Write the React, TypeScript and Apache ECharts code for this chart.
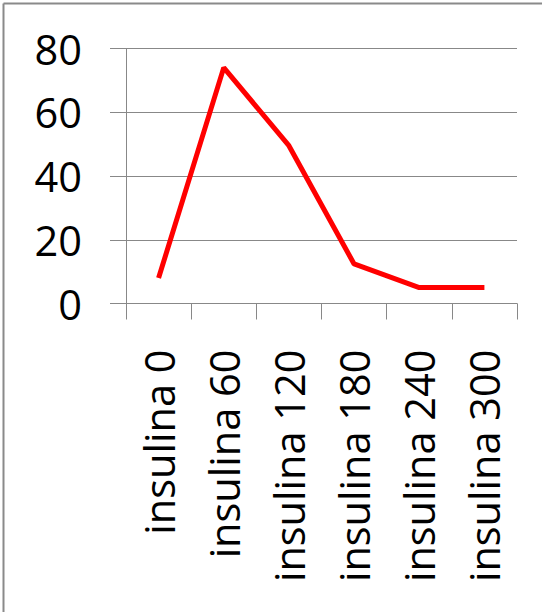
import React, { useEffect, useRef } from "react";
import * as echarts from "echarts";

const categories = ["insulina 0", "insulina 60", "insulina 120", "insulina 180", "insulina 240", "insulina 300"];
const values = [8, 74, 49.5, 12.4, 5, 5];
const yMin = 0;
const yMax = 80;
const yInterval = 20;

export default function App() {
  const ref = useRef<HTMLDivElement>(null);
  useEffect(() => {
    document.body.style.margin = "0";
    const chart = echarts.init(ref.current!, null, { renderer: "svg" });
    const font = "'Open Sans', sans-serif";
    chart.setOption({
      animation: false,
      backgroundColor: "#ffffff",
      graphic: [
        { type: "line", shape: { x1: 3.5, y1: 3.5, x2: 3.5, y2: 612 }, style: { stroke: "#8a8a8a", lineWidth: 2 } },
        { type: "line", shape: { x1: 3.5, y1: 3.5, x2: 542, y2: 3.5 }, style: { stroke: "#8a8a8a", lineWidth: 2 } },
      ],
      grid: { left: 126, right: 25, top: 48.5, bottom: 308.5, containLabel: false },
      xAxis: {
        type: "category",
        data: categories,
        boundaryGap: true,
        axisLine: { lineStyle: { color: "#888888", width: 1 } },
        axisTick: { show: true, length: 16, lineStyle: { color: "#888888" }, alignWithLabel: false },
        axisLabel: { rotate: 90, fontSize: 41.5, fontFamily: font, color: "#000000", margin: 46, interval: 0 },
        splitLine: { show: false },
      },
      yAxis: {
        type: "value",
        min: yMin,
        max: yMax,
        interval: yInterval,
        axisLine: { show: true, lineStyle: { color: "#888888", width: 1 } },
        axisTick: { show: true, length: 16, lineStyle: { color: "#888888" } },
        axisLabel: { fontSize: 41.5, fontFamily: font, color: "#000000", margin: 44 },
        splitLine: { show: true, lineStyle: { color: "#888888", width: 1 } },
      },
      series: [
        {
          type: "line",
          data: values,
          symbol: "none",
          lineStyle: { color: "#ff0000", width: 5 },
        },
      ],
    });
    return () => chart.dispose();
  }, []);
  return <div ref={ref} style={{ width: 542, height: 612 }} />;
}
